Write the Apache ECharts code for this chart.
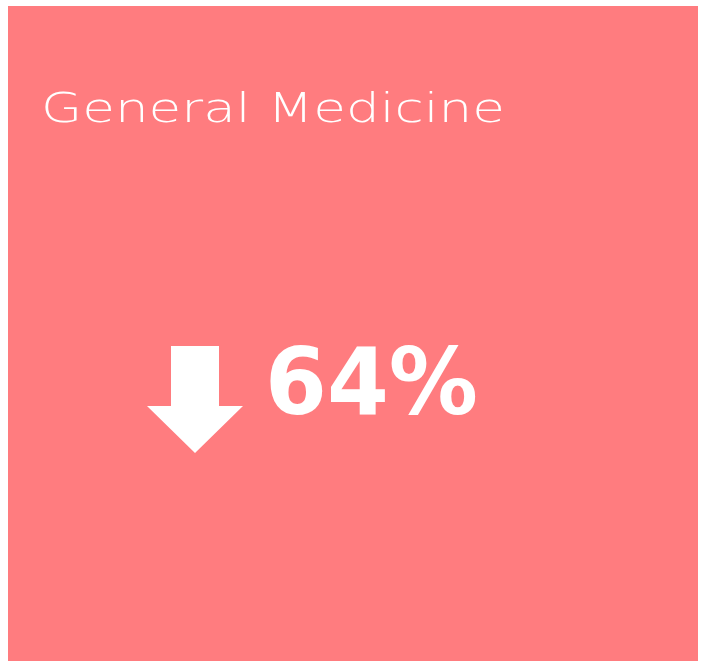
<!DOCTYPE html>
<html>
<head>
<meta charset="utf-8">
<script src="https://cdn.jsdelivr.net/npm/echarts@6/dist/echarts.min.js"></script>
<style>
  html, body { margin: 0; padding: 0; background: #fff; }
  #chart_example { width: 705px; height: 663px; }
</style>
</head>
<body>
<div id="chart_example"></div>
<script>
// card data
var cardTitle = ['General Medicine'];
var cardValue = [64];
var cardTrend = ['down'];

var titleFont = '200 40px "DejaVu Sans", sans-serif';
var valueFont = 'bold 93px "DejaVu Sans", sans-serif';

// stretch text so it spans the same width as in the original card
var ctx = document.createElement('canvas').getContext('2d');
function fitScale(txt, font, targetW) {
  ctx.font = font;
  return targetW / ctx.measureText(txt).width;
}

var myChart = echarts.init(document.getElementById('chart_example'));

// arrow shape, pointing down when trend is down
var arrowPts = [[171, 346], [219, 346], [219, 406], [243, 406], [195, 453], [147, 406], [171, 406]];
if (cardTrend[0] === 'up') {
  arrowPts = arrowPts.map(function (p) { return [p[0], 799 - p[1]]; });
}

var valueText = cardValue[0] + '%';

var option1 = {
  backgroundColor: '#ffffff',
  graphic: [
    {
      type: 'rect',
      shape: { x: 8, y: 6, width: 690, height: 655 },
      style: { fill: '#ff7c7f' }
    },
    {
      type: 'text',
      x: 41,
      y: 92,
      scaleX: fitScale(cardTitle[0], titleFont, 464),
      style: {
        text: cardTitle[0],
        fill: '#fff',
        font: titleFont
      }
    },
    {
      type: 'polygon',
      shape: { points: arrowPts },
      style: { fill: '#fff' }
    },
    {
      type: 'text',
      x: 265,
      y: 343,
      scaleX: fitScale(valueText, valueFont, 213),
      style: {
        text: valueText,
        fill: '#fff',
        font: valueFont
      }
    }
  ]
};

myChart.setOption(option1);
window.addEventListener('resize', function () { myChart.resize(); });
</script>
</body>
</html>
